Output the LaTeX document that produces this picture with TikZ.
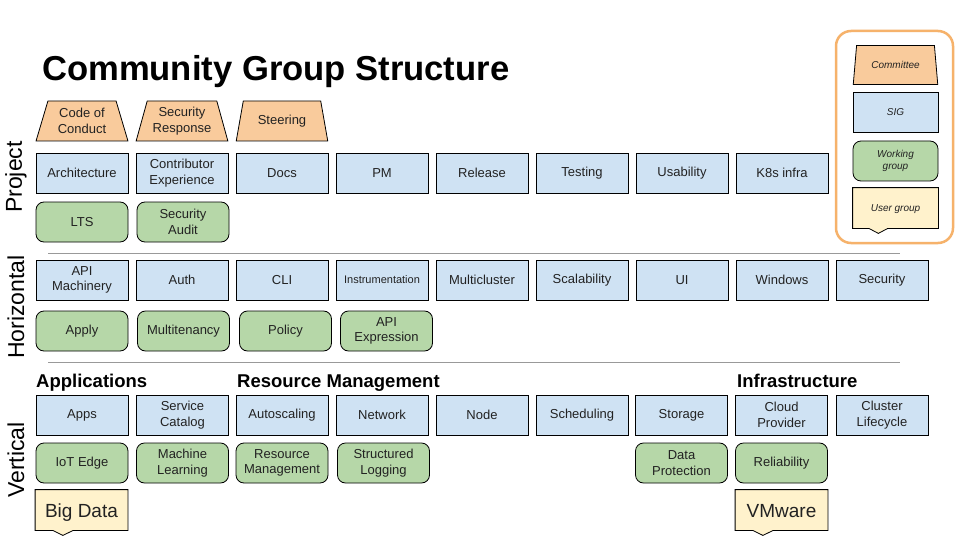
\documentclass[tikz,border=0pt]{standalone}
\usepackage{fontspec}
\setmainfont{Liberation Sans}
\usetikzlibrary{shapes.geometric,calc}
\definecolor{cmt}{HTML}{F9CB9C}
\definecolor{sig}{HTML}{CFE2F3}
\definecolor{wg}{HTML}{B6D7A8}
\definecolor{ug}{HTML}{FFF2CC}
\definecolor{lgd}{HTML}{F6B26B}
\definecolor{sepc}{HTML}{999999}
\definecolor{txt}{HTML}{222222}
\tikzset{
  base/.style={draw=black, line width=0.8pt, align=center, inner sep=1pt, text=txt,
    font=\fontsize{13}{15.5}\selectfont, minimum width=92pt, minimum height=40pt},
  sigbox/.style={base, rectangle, fill=sig},
  wgbox/.style={base, rectangle, rounded corners=8pt, fill=wg},
  cmtbox/.style={base, trapezium, trapezium left angle=72, trapezium right angle=72,
    trapezium stretches=true, fill=cmt},
  ugbox/.style={base, draw=none, rectangle, font=\fontsize{19}{22}\selectfont},
  ugline/.style={draw=black, line width=0.8pt, fill=ug, line join=miter},
  sepline/.style={draw=sepc, line width=0.9pt},
  sidelabel/.style={rotate=90, font=\fontsize{23}{26}\selectfont, text=black, inner sep=0pt},
  heading/.style={anchor=base west, font=\bfseries\fontsize{18.5}{21}\selectfont, text=black, inner sep=0pt},
  lgdtext/.style={font=\itshape\fontsize{10}{12}\selectfont, minimum width=85pt, minimum height=40pt},
  lgdbox/.style={draw=lgd, line width=2.5pt, rounded corners=15pt, minimum width=117pt, minimum height=212pt}
}
\newcommand{\ugdraw}[1]{%
  \filldraw[ugline] (#1.north west) -- (#1.north east) -- (#1.south east)
    -- ($(#1.south west)!0.41!(#1.south east)$) -- ($(#1.south west)!0.30!(#1.south east)+(0,5)$)
    -- ($(#1.south west)!0.19!(#1.south east)$) -- (#1.south west) -- cycle;}
\begin{document}
\begin{tikzpicture}[x=1pt,y=-1pt]
\useasboundingbox[fill=white] (0,0) rectangle (960,540);

% title
\node[anchor=west, inner sep=0pt, font=\bfseries\fontsize{34.6}{40}\selectfont] (title) at (42,72) {Community Group Structure};

% side labels
\node[sidelabel] (lproject) at (16,177) {Project};
\node[sidelabel] (lhoriz) at (16,307) {Horizontal};
\node[sidelabel] (lvert) at (16,460) {Vertical};

% separators
\coordinate (s1a) at (48,253); \coordinate (s1b) at (900,253);
\coordinate (s2a) at (48,362); \coordinate (s2b) at (900,362);
\draw[sepline] (s1a) -- (s1b);
\draw[sepline] (s2a) -- (s2b);

% Project: committees
\node[cmtbox] (coc) at (82,121) {Code of\\Conduct};
\node[cmtbox] (secresp) at (182,121) {Security\\Response};
\node[cmtbox] (steer) at (282,121) {Steering};
% Project: SIGs
\node[sigbox] (arch) at (82,173) {Architecture};
\node[sigbox] (contrib) at (182,173) {Contributor\\Experience};
\node[sigbox] (docs) at (282,173) {Docs};
\node[sigbox] (pm) at (382,173) {PM};
\node[sigbox] (release) at (482,173) {Release};
\node[sigbox] (testing) at (582,173) {Testing};
\node[sigbox] (usab) at (682,173) {Usability};
\node[sigbox] (k8sinfra) at (782,173) {K8s infra};
% Project: WGs
\node[wgbox] (lts) at (82,222) {LTS};
\node[wgbox] (secaudit) at (183,222) {Security\\Audit};

% Horizontal: SIGs
\node[sigbox] (apimach) at (82,280) {API\\Machinery};
\node[sigbox] (auth) at (182,280) {Auth};
\node[sigbox] (cli) at (282,280) {CLI};
\node[sigbox, font=\fontsize{11}{13}\selectfont] (instr) at (382,280) {Instrumentation};
\node[sigbox] (multicl) at (482,280) {Multicluster};
\node[sigbox] (scal) at (582,280) {Scalability};
\node[sigbox] (ui) at (682,280) {UI};
\node[sigbox] (windows) at (782,280) {Windows};
\node[sigbox] (security) at (882,280) {Security};
% Horizontal: WGs
\node[wgbox] (apply) at (82,331) {Apply};
\node[wgbox] (multiten) at (183.5,331) {Multitenancy};
\node[wgbox] (policy) at (285.5,331) {Policy};
\node[wgbox] (apiexpr) at (386.5,331) {API\\Expression};

% Vertical: headings
\node[heading] (happ) at (36,387) {Applications};
\node[heading] (hres) at (237,387) {Resource Management};
\node[heading] (hinfra) at (737,387) {Infrastructure};
% Vertical: SIGs
\node[sigbox] (apps) at (82,415) {Apps};
\node[sigbox] (svccat) at (182.5,415) {Service\\Catalog};
\node[sigbox] (autosc) at (282,415) {Autoscaling};
\node[sigbox] (network) at (382,415) {Network};
\node[sigbox] (nodesig) at (482,415) {Node};
\node[sigbox] (sched) at (582,415) {Scheduling};
\node[sigbox] (storage) at (681.5,415) {Storage};
\node[sigbox] (cloudprov) at (781.5,415) {Cloud\\Provider};
\node[sigbox] (clusterlc) at (882,415) {Cluster\\Lifecycle};
% Vertical: WGs
\node[wgbox] (iot) at (82,463) {IoT Edge};
\node[wgbox] (ml) at (182.5,463) {Machine\\Learning};
\node[wgbox] (resmgmt) at (282,463) {Resource\\Management};
\node[wgbox] (structlog) at (383.5,463) {Structured\\Logging};
\node[wgbox] (dataprot) at (681.5,463) {Data\\Protection};
\node[wgbox] (reliab) at (781.5,463) {Reliability};
% Vertical: user groups
\node[ugbox] (bigdata) at (81.5,510) {};
\ugdraw{bigdata}
\node[ugbox, anchor=base] (bigdatat) at (81.5,517) {Big Data};
\node[ugbox] (vmware) at (781.5,510) {};
\ugdraw{vmware}
\node[ugbox, anchor=base] (vmwaret) at (781.5,517) {VMware};

% legend
\node[lgdbox] (legend) at (894.5,137) {};
\node[cmtbox, lgdtext, minimum height=39pt, trapezium left angle=77, trapezium right angle=77] (lgcmt) at (895.5,65) {Committee};
\node[sigbox, lgdtext] (lgsig) at (895.5,112) {SIG};
\node[wgbox, lgdtext] (lgwg) at (895.5,161) {Working\\group};
\node[ugbox, lgdtext] (lgug) at (895.5,208) {};
\ugdraw{lgug}
\node[ugbox, lgdtext] (lgugt) at (895.5,209) {User group};
\end{tikzpicture}
\end{document}
